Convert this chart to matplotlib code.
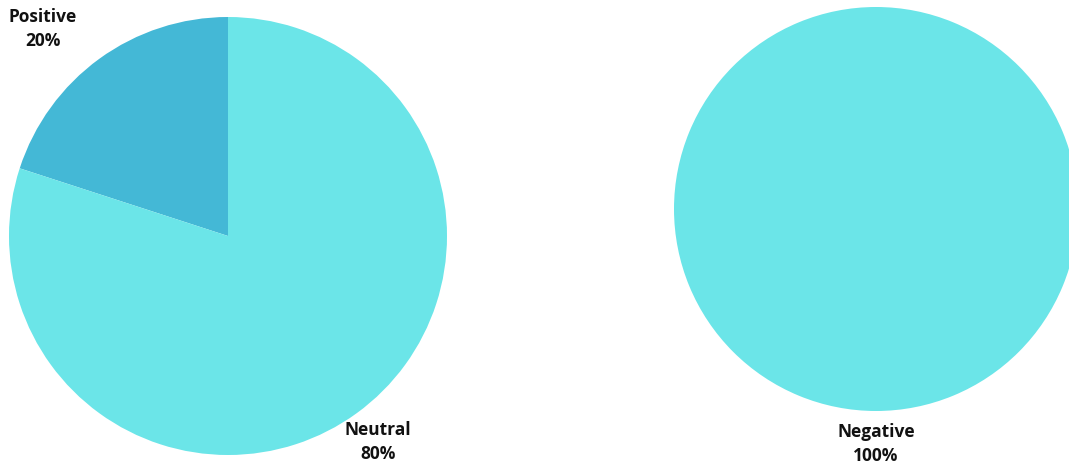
import matplotlib.pyplot as plt

# sentiment shares for the two groups
left_labels = ["Positive", "Neutral"]
left_values = [20, 80]
right_labels = ["Negative"]
right_values = [100]

light = "#6BE5E8"
dark = "#44B8D6"

plt.rcParams['font.family'] = ['Open Sans', 'DejaVu Sans']

W, H = 1069, 465
fig = plt.figure(figsize=(W / 100, H / 100), dpi=100)
ax = fig.add_axes([0, 0, 1, 1])

ax.pie(left_values, colors=[dark, light], startangle=90, counterclock=True,
       center=(228, H - 236), radius=219, frame=True,
       wedgeprops=dict(linewidth=0))
ax.pie(right_values, colors=[light], startangle=90,
       center=(876, H - 209), radius=202, frame=True,
       wedgeprops=dict(linewidth=0))

def label(x, y, name, val):
    ax.text(x, H - y, f"{name}\n{val}%", ha='center', va='center',
            fontsize=12.5, fontweight='bold', color='#111111', linespacing=1.45)

label(43, 29, left_labels[0], left_values[0])
label(378, 442, left_labels[1], left_values[1])
label(876, 444, right_labels[0], right_values[0])

ax.set_xlim(0, W)
ax.set_ylim(0, H)
ax.set_aspect('equal')
ax.axis('off')
fig.savefig("out.png", dpi=100)
